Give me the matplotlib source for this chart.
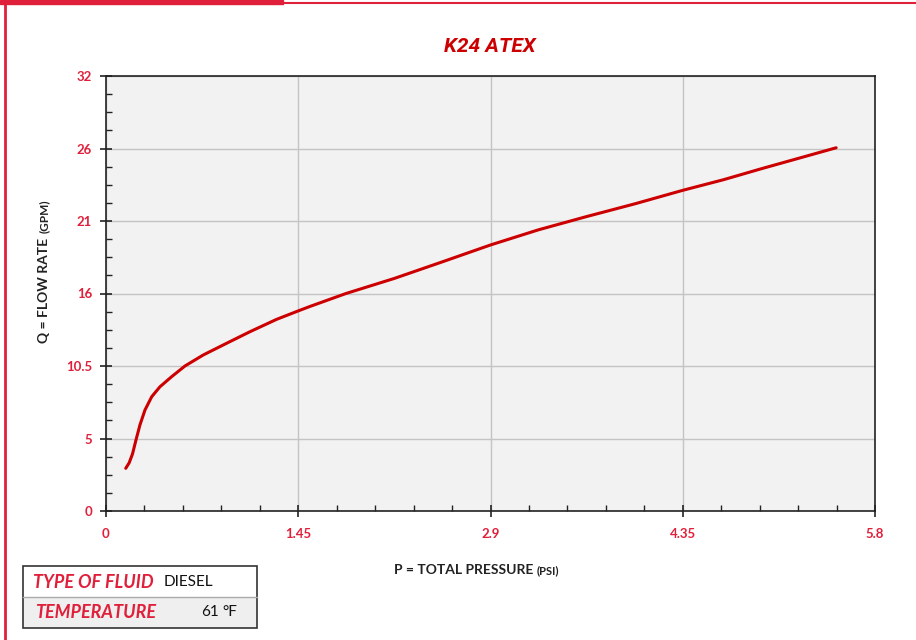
import numpy as np
import matplotlib
matplotlib.use("Agg")
import matplotlib.pyplot as plt
from matplotlib.patches import Rectangle
from matplotlib.lines import Line2D

plt.rcParams['font.family'] = ['Lato', 'DejaVu Sans']

RED = '#e0203a'
CURVE = '#cc0000'

# curve (pressure psi, flow on the 0-32 axis)
pressure = [0.149, 0.175, 0.200, 0.226, 0.256, 0.294, 0.345, 0.407, 0.495, 0.596, 0.734,
            0.910, 1.086, 1.287, 1.45, 1.539, 1.81, 2.175, 2.54, 2.9, 3.26, 3.625,
            3.99, 4.35, 4.657, 4.936, 5.507]
flow = [3.14, 3.55, 4.20, 5.22, 6.33, 7.43, 8.41, 9.14, 9.88, 10.67, 11.48,
        12.34, 13.19, 14.10, 14.72, 15.05, 16.0, 17.11, 18.34, 19.57, 20.68, 21.66,
        22.6, 23.59, 24.37, 25.16, 26.72]

x_ticks = [0, 1.45, 2.9, 4.35, 5.8]
x_labels = ['0', '1.45', '2.9', '4.35', '5.8']
y_labels = ['0', '5', '10.5', '16', '21', '26', '32']

fig = plt.figure(figsize=(9.16, 6.4), dpi=100)
ax = fig.add_axes([106/916, 1 - 511/640, 769/916, 435/640])
ax.set_facecolor('#f2f2f2')

ax.plot(pressure, flow, color=CURVE, lw=2.2, solid_capstyle='round',
        solid_joinstyle='round', zorder=3)

ax.set_xlim(0, 5.8)
ax.set_ylim(0, 32)
ax.set_xticks(x_ticks)
ax.set_xticklabels(x_labels)
ax.set_yticks(np.linspace(0, 32, 7))
ax.set_yticklabels(y_labels)
ax.set_xticks(np.linspace(0, 5.8, 21), minor=True)
ax.set_yticks(np.linspace(0, 32, 25), minor=True)

ax.grid(True, which='major', color='#c4c4c4', lw=1.0)
ax.set_axisbelow(True)
for s in ax.spines.values():
    s.set_color('#222222')
    s.set_linewidth(1.2)

ax.tick_params(which='major', direction='inout', length=8, width=1.2, color='#222222',
               labelcolor=RED, labelsize=9.5, pad=6)
ax.tick_params(which='minor', direction='in', length=4, width=1.0, color='#222222')
for lab in ax.get_xticklabels() + ax.get_yticklabels():
    lab.set_fontweight('bold')
ax.tick_params(axis='x', pad=8)

fig.text(490/916, 1 - 47/640, 'K24 ATEX', color=CURVE, fontsize=15, fontweight='bold',
         fontstyle='italic', ha='center', va='center', family=['Roboto', 'DejaVu Sans'])

# axis titles
fig.text(44/916, 1 - 343/640, 'Q = FLOW RATE', rotation=90, fontsize=10, fontweight='bold',
         color='#222222', ha='center', va='bottom')
fig.text(44/916, 1 - 233/640, '(GPM)', rotation=90, fontsize=8.5, fontweight='bold',
         color='#222222', ha='center', va='bottom')
fig.text(533/916, 1 - 570/640, 'P = TOTAL PRESSURE', fontsize=10, fontweight='bold',
         color='#222222', ha='right', va='center')
fig.text(537/916, 1 - 571/640, '(PSI)', fontsize=8, fontweight='bold',
         color='#222222', ha='left', va='center')

# page decorations
fig.add_artist(Rectangle((0, 1 - 4/640), 283/916, 4/640, color=RED, transform=fig.transFigure))
fig.add_artist(Line2D([283/916, 1], [1 - 3/640, 1 - 3/640], color=RED, lw=1.5, transform=fig.transFigure))
fig.add_artist(Line2D([5/916, 5/916], [0, 1], color=RED, lw=2, transform=fig.transFigure))

# fluid info box
fig.add_artist(Rectangle((23/916, 1 - 628/640), 234/916, 31/640, facecolor='#efefef',
                         edgecolor='none', transform=fig.transFigure))
fig.add_artist(Line2D([23/916, 257/916], [1 - 597/640, 1 - 597/640], color='#aaaaaa', lw=1,
                      transform=fig.transFigure))
fig.add_artist(Rectangle((23/916, 1 - 628/640), 234/916, 62/640, facecolor='none',
                         edgecolor='#333333', lw=1.2, transform=fig.transFigure))
fig.text(33/916, 1 - 582/640, 'TYPE OF FLUID', color=RED, fontsize=13, fontweight='bold',
         fontstyle='italic', va='center')
fig.text(164/916, 1 - 582/640, 'DIESEL', color='#111111', fontsize=11, va='center')
fig.text(35/916, 1 - 612/640, 'TEMPERATURE', color=RED, fontsize=13, fontweight='bold',
         fontstyle='italic', va='center')
fig.text(201/916, 1 - 612/640, '61', color='#111111', fontsize=11, va='center')
fig.text(222/916, 1 - 612/640, '°F', color='#111111', fontsize=11, va='center')

fig.savefig('out.png', dpi=100)
